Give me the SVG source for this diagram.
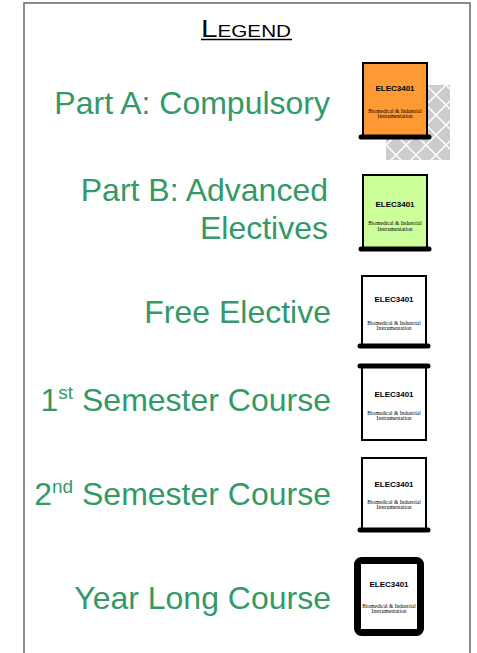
<svg xmlns="http://www.w3.org/2000/svg" width="477" height="653" viewBox="0 0 477 653">
<style>
.lbl{font-family:"Liberation Sans",Arial,sans-serif;font-size:32px;fill:#339966;text-anchor:end}
.code{font-family:"Liberation Sans",Arial,sans-serif;font-size:8px;font-weight:bold;fill:#000;text-anchor:middle}
.sub{font-family:"Liberation Serif","Times New Roman",serif;font-size:5.5px;fill:#000;text-anchor:middle}
.box{stroke:#000;stroke-width:2}
.bar{stroke:#000;stroke-width:5;stroke-linecap:round}
</style>
<defs>
<pattern id="hatch" width="20" height="20" patternUnits="userSpaceOnUse" x="386" y="85">
<rect width="20" height="20" fill="#cccccc"/>
<path d="M0 0L20 20M20 0L0 20" stroke="#fff" stroke-width="1.5"/>
</pattern>
</defs>
<rect width="477" height="653" fill="#fff"/>
<rect x="24" y="3" width="446" height="670" fill="none" stroke="#666" stroke-width="1.5"/>
<g id="title">
<text x="201" y="37" font-family="Liberation Sans,Arial,sans-serif" fill="#000" textLength="90" lengthAdjust="spacingAndGlyphs"><tspan font-size="23">L</tspan><tspan font-size="16">EGEND</tspan></text>
<line x1="201" y1="39.5" x2="292" y2="39.5" stroke="#000" stroke-width="1.3"/>
</g>
<g id="partA">
<text class="lbl" x="330" y="114">Part A: Compulsory</text>
<rect x="386" y="85" width="64" height="75" fill="url(#hatch)"/>
<rect class="box" x="363" y="63" width="64" height="74" fill="#ff9933"/>
<line class="bar" x1="361" y1="137" x2="429" y2="137"/>
<text class="code" x="395" y="91">ELEC3401</text>
<text class="sub" x="395" y="113">Biomedical &amp; Industrial</text>
<text class="sub" x="395" y="118">Instrumentation</text>
</g>
<g id="partB">
<text class="lbl" x="328" y="201">Part B: Advanced</text>
<text class="lbl" x="328" y="239">Electives</text>
<rect class="box" x="363" y="175" width="64" height="74" fill="#ccff99"/>
<line class="bar" x1="361" y1="249" x2="429" y2="249"/>
<text class="code" x="395" y="207">ELEC3401</text>
<text class="sub" x="395" y="225">Biomedical &amp; Industrial</text>
<text class="sub" x="395" y="231">Instrumentation</text>
</g>
<g id="free">
<text class="lbl" x="331" y="323">Free Elective</text>
<rect class="box" x="362" y="276" width="64" height="70" fill="#fff"/>
<line class="bar" x1="360" y1="346" x2="428" y2="346"/>
<text class="code" x="394" y="302">ELEC3401</text>
<text class="sub" x="394" y="325">Biomedical &amp; Industrial</text>
<text class="sub" x="394" y="330">Instrumentation</text>
</g>
<g id="sem1">
<text class="lbl" x="331" y="411">1<tspan font-size="19" dy="-12">st</tspan><tspan dy="12"> Semester Course</tspan></text>
<rect class="box" x="362" y="366" width="64" height="74" fill="#fff"/>
<line class="bar" x1="360" y1="366" x2="428" y2="366"/>
<text class="code" x="394" y="397">ELEC3401</text>
<text class="sub" x="394" y="415">Biomedical &amp; Industrial</text>
<text class="sub" x="394" y="420">Instrumentation</text>
</g>
<g id="sem2">
<text class="lbl" x="331" y="505">2<tspan font-size="19" dy="-12">nd</tspan><tspan dy="12"> Semester Course</tspan></text>
<rect class="box" x="362" y="458" width="64" height="72" fill="#fff"/>
<line class="bar" x1="360" y1="530" x2="428" y2="530"/>
<text class="code" x="394" y="487">ELEC3401</text>
<text class="sub" x="394" y="504">Biomedical &amp; Industrial</text>
<text class="sub" x="394" y="509">Instrumentation</text>
</g>
<g id="year">
<text class="lbl" x="331" y="609">Year Long Course</text>
<rect x="357.5" y="560.5" width="63" height="72" rx="4" fill="#fff" stroke="#000" stroke-width="7"/>
<text class="code" x="389" y="587">ELEC3401</text>
<text class="sub" x="389" y="608">Biomedical &amp; Industrial</text>
<text class="sub" x="389" y="613">Instrumentation</text>
</g>
</svg>
